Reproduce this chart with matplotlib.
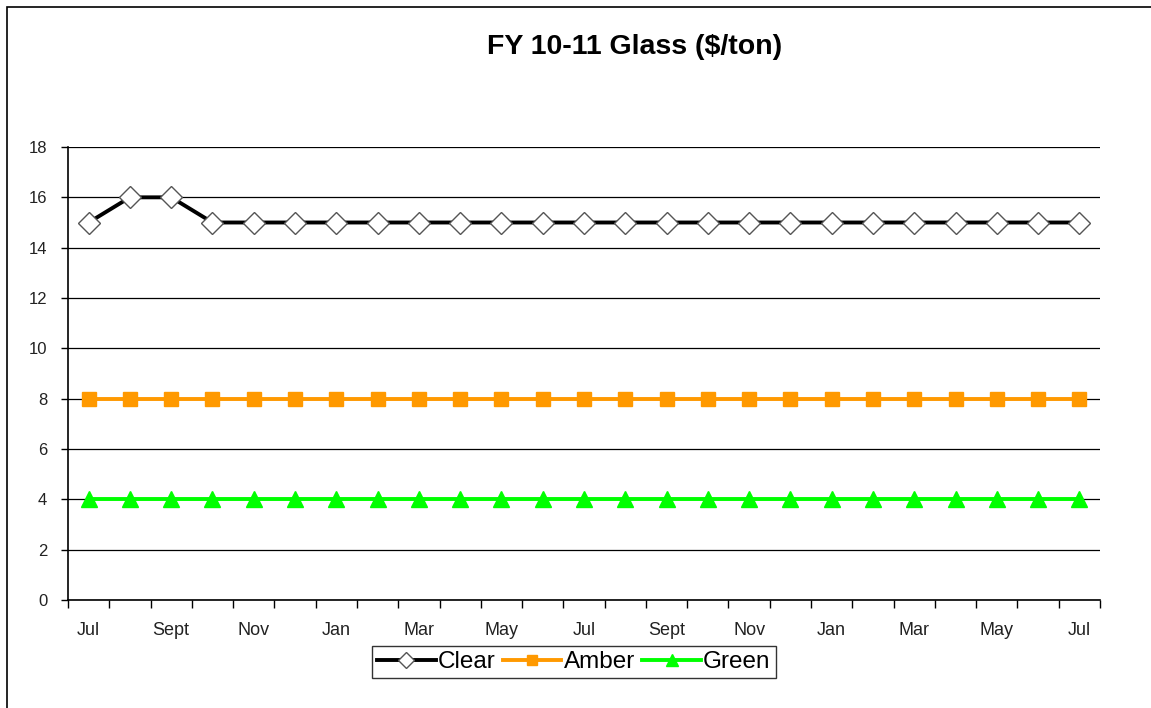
import matplotlib
matplotlib.use("Agg")
import matplotlib.pyplot as plt
from matplotlib.patches import Rectangle

plt.rcParams['font.family'] = ['Liberation Sans', 'DejaVu Sans']

months = ["Jul", "Aug", "Sept", "Oct", "Nov", "Dec", "Jan", "Feb", "Mar", "Apr", "May", "Jun",
          "Jul", "Aug", "Sept", "Oct", "Nov", "Dec", "Jan", "Feb", "Mar", "Apr", "May", "Jun", "Jul"]
clear = [15, 16, 16, 15, 15, 15, 15, 15, 15, 15, 15, 15, 15,
         15, 15, 15, 15, 15, 15, 15, 15, 15, 15, 15, 15]
amber = [8, 8, 8, 8, 8, 8, 8, 8, 8, 8, 8, 8, 8,
         8, 8, 8, 8, 8, 8, 8, 8, 8, 8, 8, 8]
green = [4, 4, 4, 4, 4, 4, 4, 4, 4, 4, 4, 4, 4,
         4, 4, 4, 4, 4, 4, 4, 4, 4, 4, 4, 4]
yticks = [0, 2, 4, 6, 8, 10, 12, 14, 16, 18]
title = "FY 10-11 Glass ($/ton)"

W, H = 1151, 708
fig = plt.figure(figsize=(W / 100, H / 100), dpi=100)
ax = fig.add_axes([68 / W, 1 - 600 / H, (1100 - 68) / W, (600 - 147) / H])

x = list(range(len(months)))
ax.plot(x, clear, color='black', lw=2.8, marker='D', ms=11, mfc='white', mec='#555555', mew=1,
        label='Clear', zorder=4)
ax.plot(x, amber, color='#FF9900', lw=2.8, marker='s', ms=10, mfc='#FF9900', mec='#FF9900',
        label='Amber', zorder=3)
ax.plot(x, green, color='#00FF00', lw=2.8, marker='^', ms=12, mfc='#00FF00', mec='#00FF00',
        label='Green', zorder=3)

ax.set_xlim(-0.5, len(months) - 0.5)
ax.set_ylim(0, 18)
ax.set_yticks(yticks)
ax.set_yticklabels([str(v) for v in yticks], fontsize=12, color='#222222')
ax.yaxis.grid(True, color='black', lw=0.9)
ax.set_axisbelow(True)

ax.set_xticks([i - 0.5 for i in range(len(months) + 1)])
ax.set_xticklabels([])
ax.set_xticks(x[::2], minor=True)
ax.set_xticklabels(months[::2], minor=True, fontsize=13, color='#222222')
ax.tick_params(axis='x', which='major', length=6, width=1, color='black', direction='out')
ax.tick_params(axis='x', which='minor', length=0, pad=16)
ax.tick_params(axis='y', length=5, width=1, color='black', pad=10)

for s in ['top', 'right']:
    ax.spines[s].set_visible(False)
for s in ['left', 'bottom']:
    ax.spines[s].set_color('black')
    ax.spines[s].set_linewidth(1.2)

fig.text(635 / W, 1 - 47 / H, title, ha='center', va='center', fontsize=20.5, fontweight='bold')

leg = fig.legend(loc='center', bbox_to_anchor=(574 / W, 1 - 662 / H), ncol=3, fontsize=17.5,
                 frameon=True, fancybox=False, edgecolor='black', handlelength=2.4,
                 markerscale=0.7, handletextpad=0.1, columnspacing=0.3, borderpad=0.2,
                 borderaxespad=0)
leg.get_frame().set_linewidth(1)

fig.add_artist(Rectangle((7 / W, -0.1), 1.2, 1 - 7 / H + 0.1, transform=fig.transFigure,
                         fill=False, edgecolor='black', lw=1.2))

fig.savefig('out.png', dpi=100)
